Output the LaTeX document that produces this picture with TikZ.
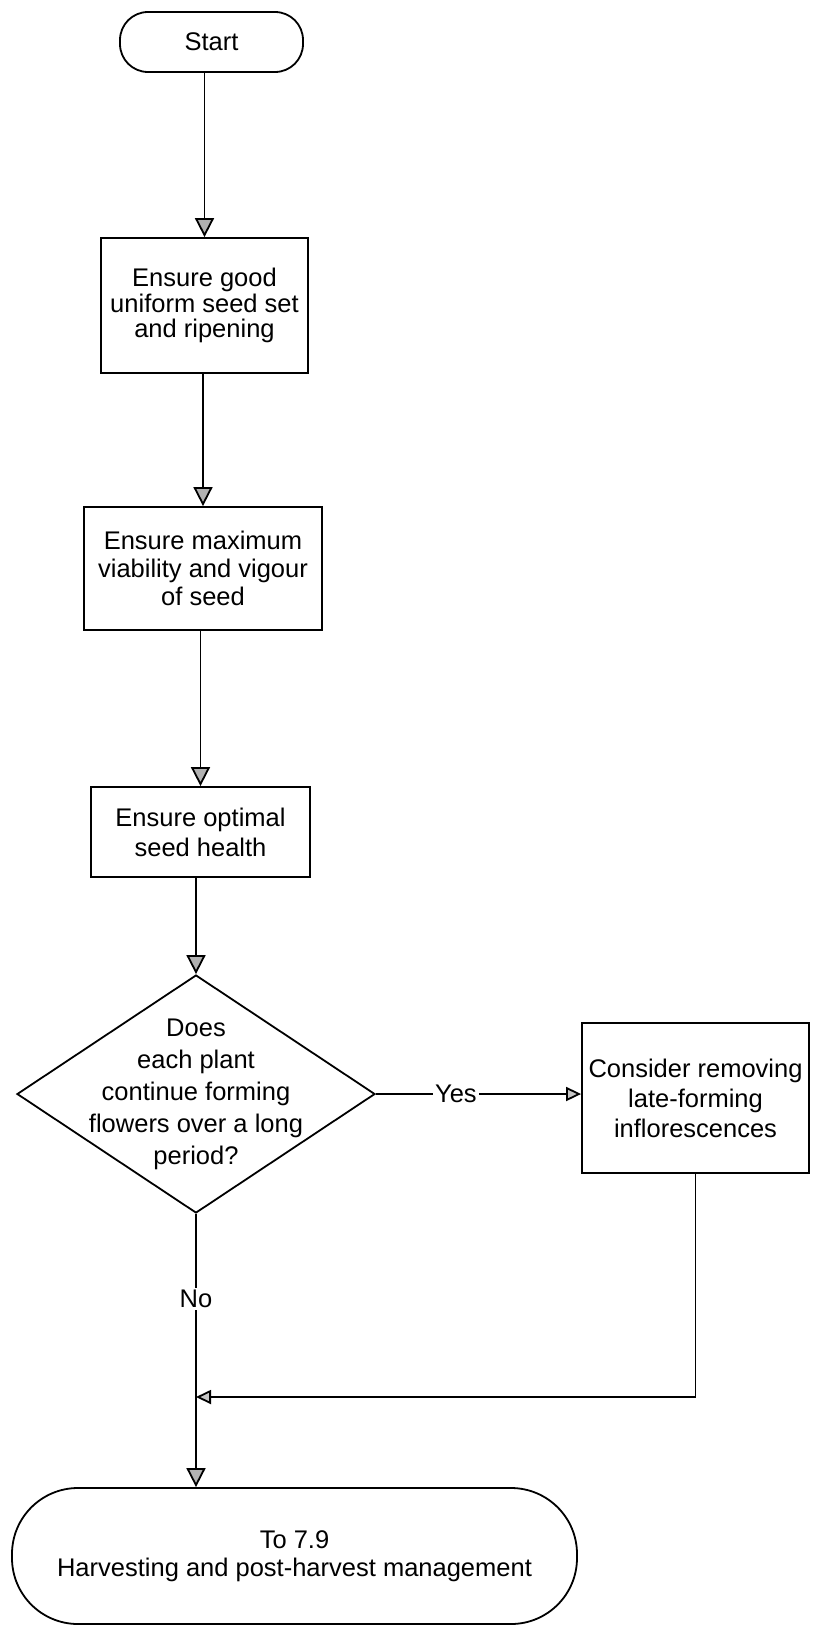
\documentclass[tikz,border=0pt]{standalone}
\usepackage{fontspec}
\setmainfont{Liberation Sans}
\usetikzlibrary{arrows.meta,shapes.geometric}
\begin{document}
\begin{tikzpicture}[x=1pt,y=-1pt,
  every node/.style={font=\fontsize{25.5}{30}\selectfont, align=center},
  stepbox/.style={draw, line width=1.8pt, inner sep=0pt},
  terminal/.style={stepbox, rounded corners=#1},
  flow/.style={line width=1.8pt, line join=miter,
    -{Triangle[length=19pt,width=19pt,fill=gray!60,line join=miter]}},
  thin flow/.style={line width=1.8pt, line join=miter,
    -{Triangle[length=15pt,width=14pt,fill=gray!45,line join=miter]}},
  tag/.style={fill=white, inner sep=2pt}
]
  % page frame
  \fill[white] (0,0) rectangle (815,1630);
  \useasboundingbox (0,0) rectangle (815,1630);

  % steps
  \node[terminal=28pt, minimum width=183pt, minimum height=60pt] (start) at (211.5,42) {Start};
  \node[stepbox, minimum width=207pt, minimum height=135pt, font=\fontsize{25.5}{25.5}\selectfont] (box1) at (204.5,305.5)
    {Ensure good\\uniform seed set\\and ripening};
  \node[stepbox, minimum width=238pt, minimum height=123pt, font=\fontsize{25.5}{28}\selectfont] (box2) at (203,568.5)
    {Ensure maximum\\viability and vigour\\of seed};
  \node[stepbox, minimum width=219pt, minimum height=90pt, font=\fontsize{25.5}{30}\selectfont] (box3) at (200.5,832)
    {Ensure optimal\\seed health};
  \node[draw, diamond, line width=1.8pt, inner sep=0pt, minimum width=358pt, minimum height=238pt,
    label={[font=\fontsize{25.5}{32}\selectfont, align=center]center:Does\\each plant\\continue forming\\flowers over a long\\period?}]
    (dec) at (196,1094) {};
  \node[stepbox, minimum width=227pt, minimum height=150pt, font=\fontsize{25.5}{30}\selectfont] (box4) at (695.5,1098)
    {Consider removing\\late-forming\\inflorescences};
  \node[terminal=66pt, minimum width=565pt, minimum height=136pt, font=\fontsize{25.5}{28.5}\selectfont] (end) at (294.5,1556)
    {To 7.9\\Harvesting and post-harvest management};

  \coordinate (join) at (196,1397);

  % connectors
  \draw[flow] (start.south -| box1.north) -- (box1.north);
  \draw[flow] (box1.south -| box2.north) -- (box2.north);
  \draw[flow] (box2.south -| box3.north) -- (box3.north);
  \draw[flow] (box3.south -| dec.north) -- (dec.north);
  \draw[thin flow] (dec.east) -- node[tag, pos=0.39] {Yes} (box4.west |- dec.east);
  \draw[flow] (dec.south) -- node[tag, pos=0.31] {No} (dec.south |- end.north);
  \draw[thin flow] (box4.south) |- (join);
\end{tikzpicture}
\end{document}
